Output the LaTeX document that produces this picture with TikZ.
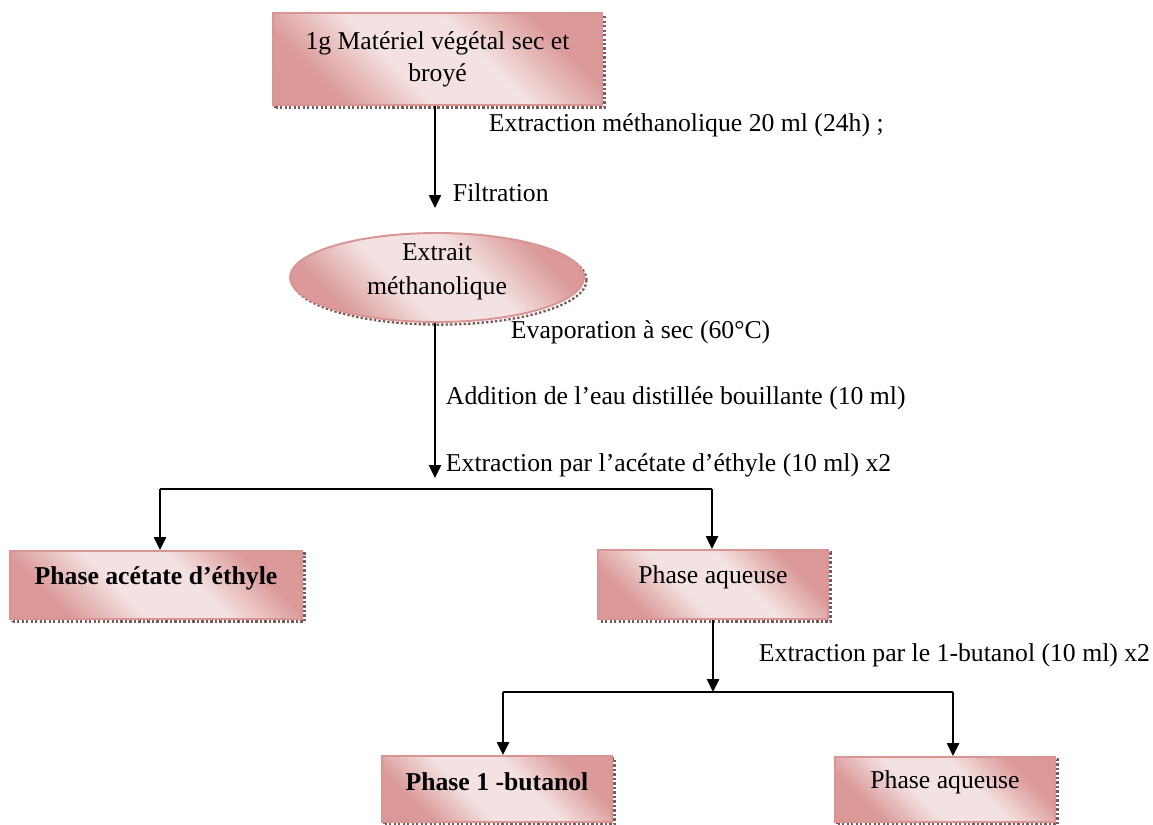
\documentclass[tikz,border=0pt]{standalone}
\usepackage{fontspec}
\setmainfont{Liberation Serif}
\usetikzlibrary{arrows.meta,shapes.geometric}
\definecolor{rosedark}{HTML}{D99594}
\definecolor{roselight}{HTML}{F4E2E2}
\definecolor{shadowc}{HTML}{7A5A5A}
\newcommand{\pxu}{0.467pt}
\newcommand{\up}[1]{\raisebox{3.3pt}[\height][\depth]{#1}}
\pgfdeclarehorizontalshading{rosegrad}{100bp}{color(0bp)=(rosedark); color(27bp)=(rosedark!95);
  color(42bp)=(roselight); color(58bp)=(roselight); color(73bp)=(rosedark!95); color(100bp)=(rosedark)}

\begin{document}
\begin{tikzpicture}[x=\pxu,y=-\pxu,line width=0.9pt,>={Triangle[length=6pt,width=5.6pt]},
    font=\fontsize{12}{15}\selectfont,
    box/.style={draw=rosedark,line width=0.9pt,shading=rosegrad,shading angle=45,align=center,inner sep=0pt,
      preaction={draw=shadowc,densely dotted,line width=1.1pt,transform canvas={xshift=1.2pt,yshift=-1.2pt}}},
    lbl/.style={anchor=west,inner sep=0pt}]

        \useasboundingbox (0,0) rectangle (1153,824);

        \node[box,minimum width=329*\pxu,minimum height=92*\pxu]  (M)   at (437.5,59)  {1g Matériel végétal sec et\\broyé};
        \node[box,ellipse,minimum width=294*\pxu,minimum height=89*\pxu,font=\fontsize{12}{16}\selectfont]
                                                                  (E)   at (437,277.5) {\raisebox{2.6pt}[\height][\depth]{Extrait}\\\raisebox{2.6pt}[\height][\depth]{méthanolique}};
        \node[box,minimum width=292*\pxu,minimum height=68*\pxu]  (PA)  at (156,585)   {\up{\textbf{Phase acétate d’éthyle}}};
        \node[box,minimum width=230*\pxu,minimum height=69*\pxu]  (PQ)  at (713,584.5) {\up{Phase aqueuse}};
        \node[box,minimum width=230*\pxu,minimum height=66*\pxu]  (PB)  at (497,789)   {\up{\textbf{Phase 1 -butanol}}};
        \node[box,minimum width=220*\pxu,minimum height=65*\pxu]  (PQ2) at (945,789.5) {\up{Phase aqueuse}};

        \coordinate (F1) at (435,208);
        \coordinate (A1) at (435,478);
        \coordinate (L1) at (160,489);
        \coordinate (R1) at (712,489);
        \coordinate (S2) at (713,692);
        \coordinate (L2) at (503,692);
        \coordinate (R2) at (953,692);

        \draw[->] (M.south -| F1) -- (F1);
        \draw[->] (E.south -| A1) -- (A1);
        \draw     (L1) -- (R1);
        \draw[->] (L1) -- (L1 |- PA.north);
        \draw[->] (R1) -- (R1 |- PQ.north);
        \draw[->] (PQ.south -| S2) -- (S2);
        \draw     (L2) -- (R2);
        \draw[->] (L2) -- (L2 |- PB.north);
        \draw[->] (R2) -- (R2 |- PQ2.north);

        \node[lbl] (T1) at (488,125) {Extraction méthanolique 20 ml (24h) ;};
        \node[lbl] (T2) at (452,193) {Filtration};
        \node[lbl] (T3) at (510,332) {Evaporation à sec (60°C)};
        \node[lbl] (T4) at (445,398) {Addition de l’eau distillée bouillante (10 ml)};
        \node[lbl] (T5) at (445,465) {Extraction par l’acétate d’éthyle (10 ml) x2};
        \node[lbl] (T6) at (758,655) {Extraction par le 1-butanol (10 ml) x2};
\end{tikzpicture}
\end{document}
